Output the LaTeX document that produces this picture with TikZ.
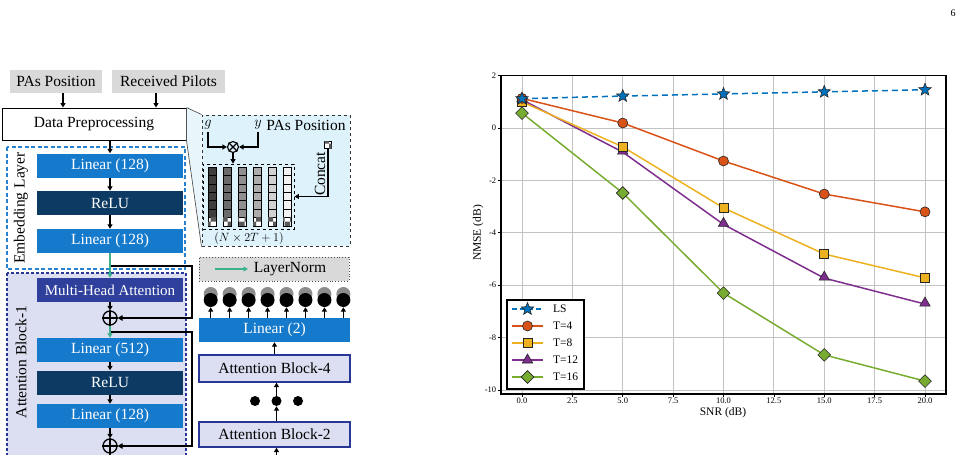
\documentclass[tikz,border=0pt]{standalone}
\usepackage{fontspec}
\setmainfont{Liberation Serif}
\usetikzlibrary{arrows.meta,shapes.geometric,patterns,calc}
\definecolor{linblue}{RGB}{22,122,204}
\definecolor{navy}{RGB}{12,58,98}
\definecolor{mhablue}{RGB}{46,64,156}
\definecolor{lav}{RGB}{220,223,242}
\definecolor{embblue}{RGB}{40,130,210}
\definecolor{attnav}{RGB}{40,55,150}
\definecolor{panelblue}{RGB}{222,242,251}
\definecolor{boxgray}{RGB}{217,217,217}
\definecolor{resgreen}{RGB}{60,175,140}
\definecolor{mblue}{RGB}{0,114,189}
\definecolor{morange}{RGB}{217,83,25}
\definecolor{myellow}{RGB}{237,177,32}
\definecolor{mpurple}{RGB}{126,47,142}
\definecolor{mgreen}{RGB}{119,172,48}
\definecolor{gridgray}{RGB}{195,195,195}
\newcommand{\dgfont}{\fontsize{15.5}{17}\selectfont}
\newcommand{\mhfont}{\fontsize{15}{17}\selectfont}
\newcommand{\tkfont}{\fontsize{8.5}{10}\selectfont}
\newcommand{\lgfont}{\fontsize{11.5}{13}\selectfont}
\tikzset{
  box/.style={minimum width=146pt, minimum height=24pt, inner sep=0pt, font=\dgfont, text=white},
  linbox/.style={box, fill=linblue},
  relubox/.style={box, fill=navy},
  mhabox/.style={box, fill=mhablue, font=\mhfont},
  graybox/.style={fill=boxgray, inner sep=0pt, minimum height=23pt, font=\dgfont},
  blockbox/.style={draw=attnav, line width=1.3pt, fill=lav, minimum width=151pt, inner sep=0pt, font=\dgfont},
  arr/.style={-{Triangle[length=4.5pt,width=5pt]}, line width=1.3pt},
  garr/.style={arr, color=resgreen},
  res/.style={line width=1.7pt, -{Triangle[length=5pt,width=5.5pt]}},
  opl/.style={circle, draw, line width=1.3pt, minimum size=14pt, inner sep=0pt},
  chk/.style={draw, line width=0.5pt, fill=white, postaction={pattern=checkerboard, pattern color=black!65}},
  dotn/.style={circle, fill=black, inner sep=0pt, minimum size=10pt},
  plotline/.style={line width=1.5pt},
  lsm/.style={star, star points=5, star point ratio=2.3, fill=mblue, draw=black!85, line width=0.6pt, minimum size=13pt, inner sep=0pt},
  t4m/.style={circle, fill=morange, draw=black!85, line width=0.6pt, minimum size=10pt, inner sep=0pt},
  t8m/.style={rectangle, fill=myellow, draw=black!85, line width=0.6pt, minimum size=9pt, inner sep=0pt},
  t12m/.style={regular polygon, regular polygon sides=3, fill=mpurple, draw=black!85, line width=0.6pt, minimum size=12pt, inner sep=0pt},
  t16m/.style={diamond, fill=mgreen, draw=black!85, line width=0.6pt, minimum size=13pt, inner sep=0pt},
}
\begin{document}
\begin{tikzpicture}[x=1pt,y=-1pt]
\useasboundingbox (0,0) rectangle (964,455);
% ---------------- inputs
\node[graybox, minimum width=92pt] (pas) at (56,81.5) {PAs Position};
\node[graybox, minimum width=113pt] (rp) at (168.5,81.5) {Received Pilots};
% zoom panel + funnel
\node[draw=black!80, dashed, line width=1pt, fill=panelblue, minimum width=148pt, minimum height=131pt, inner sep=0pt] (panel) at (276,180.5) {};
\node[draw, line width=1pt, fill=white, minimum width=184pt, minimum height=32pt, inner sep=0pt, font=\dgfont] (dp) at (94,124) {Data Preprocessing};
\fill[panelblue!70] (dp.north east) -- (panel.north west) -- (panel.south west) -- (dp.south east) -- cycle;
\draw[black!75, line width=0.6pt] (dp.north east) -- (panel.north west) (dp.south east) -- (panel.south west);
\coordinate (pasx) at (63,0);
\coordinate (rpx) at (156,0);
\draw[arr] (pas.south -| pasx) -- (dp.north -| pasx);
\draw[arr] (rp.south -| rpx) -- (dp.north -| rpx);
% ---------------- containers
\draw[embblue, line width=1.3pt, dash pattern=on 4pt off 2.5pt] (7,147) rectangle (185,269);
\draw[attnav, fill=lav, line width=1.1pt, dash pattern=on 3pt off 2pt] (7,273) rectangle (186,480);
\node[rotate=90, font=\dgfont, inner sep=0pt] (embt) at (21,208) {Embedding Layer};
\node[rotate=90, font=\dgfont, inner sep=0pt] (attt) at (21,362) {Attention Block-1};
% ---------------- left column
\node[linbox] (lin1) at (110,165.5) {Linear (128)};
\node[relubox] (relu1) at (110,203) {ReLU};
\node[linbox] (lin2) at (110,241) {Linear (128)};
\node[mhabox] (mha) at (110,290) {Multi-Head Attention};
\node[opl] (op1) at (110,318) {};
\node[linbox] (lin3) at (110,350) {Linear (512)};
\node[relubox] (relu2) at (110,382.5) {ReLU};
\node[linbox] (lin4) at (110,416) {Linear (128)};
\node[opl] (op2) at (110,446) {};
\draw[line width=1.3pt] (op1.north) -- (op1.south) (op1.west) -- (op1.east);
\draw[line width=1.3pt] (op2.north) -- (op2.south) (op2.west) -- (op2.east);
\draw[arr] (dp.south -| lin1) -- (lin1.north);
\draw[arr] (lin1.south) -- (relu1.north);
\draw[arr] (relu1.south) -- (lin2.north);
\coordinate (r1) at (110,266);
\coordinate (rx1) at (192,300);
\draw[res] (r1) -| (rx1) |- (op1.east);
\draw[garr] (lin2.south) -- (mha.north);
\draw[arr] (mha.south) -- (op1.north);
\coordinate (r2) at (110,332);
\coordinate (rx2) at (192,400);
\draw[res] (r2) -| (rx2) |- (op2.east);
\draw[garr] (op1.south) -- (lin3.north);
\draw[arr] (lin3.south) -- (relu2.north);
\draw[arr] (relu2.south) -- (lin4.north);
\draw[arr] (lin4.south) -- (op2.north);
\coordinate (opout) at (110,470);
\draw[line width=1.3pt] (op2.south) -- (opout);
% ---------------- panel content
\node[inner sep=0pt, font=\dgfont] (gv) at (208,125) {$g$};
\node[inner sep=0pt, font=\dgfont] (yv) at (258,125) {$y$};
\node[inner sep=0pt, font=\dgfont] (papt) at (306,125) {PAs Position};
\node[circle, draw, line width=1.1pt, minimum size=11pt, inner sep=0pt] (ot) at (233,147) {};
\draw[line width=1.1pt] (ot.north west) -- (ot.south east) (ot.north east) -- (ot.south west);
\draw[arr] (gv.south) ++(0,2) |- (ot.west);
\draw[arr] (yv.south) ++(0,2) |- (ot.east);
\node[draw, dashed, line width=0.8pt, minimum width=91pt, minimum height=65pt, inner sep=0pt] (mat) at (248.5,196.5) {};
\draw[arr] (ot.south) -- (mat.north -| ot);
\foreach \i/\w in {0/24,1/42,2/56,3/68,4/82,5/95}{
  \foreach \j in {0,...,5}{
    \draw[line width=0.5pt, fill=white!\w!black] ({208+15*\i},{167+8.4*\j}) rectangle ++(8,8.4);
  }
  \draw[chk] ({208+15*\i},{167+50.4}) rectangle ++(8,8.4);
}
\node[inner sep=0pt, font=\fontsize{12.5}{14}\selectfont] (dim) at (249,238) {$(N\times 2T+1)$};
\node[chk, minimum size=7pt, inner sep=0pt] (pap) at (328,145) {};
\draw[arr] (pap.south) |- (mat.east);
\node[rotate=90, inner sep=0pt, font=\dgfont] (cct) at (320,174) {Concat};
% ---------------- right column
\node[fill=boxgray, draw=black!70, dotted, line width=0.9pt, minimum width=150pt, minimum height=24pt, inner sep=0pt] (ln) at (274,269) {};
\coordinate (lnA) at (215,269);
\coordinate (lnB) at (248,269);
\draw[garr] (lnA) -- (lnB);
\node[inner sep=0pt, font=\dgfont] (lnt) at (290,269) {LayerNorm};
\node[linbox, minimum width=151pt] (lin5) at (274.5,330) {Linear (2)};
\foreach \k in {0,...,7}{
  \node[circle, fill=black!45, inner sep=0pt, minimum size=14pt] (gc\k) at ({210.7+18.95*\k},294) {};
}
\foreach \k in {0,...,7}{
  \node[circle, fill=black, inner sep=0pt, minimum size=14pt] (bc\k) at ({210.7+18.95*\k},300) {};
  \draw[arr, line width=1.1pt] (lin5.north -| bc\k) -- (bc\k.south);
}
\node[blockbox, minimum height=27pt] (ab4) at (274.5,368.5) {Attention Block-4};
\node[dotn] (d1) at (255,401) {};
\node[dotn] (d2) at (276.5,401) {};
\node[dotn] (d3) at (298,401) {};
\node[blockbox, minimum height=25pt] (ab2) at (274.5,434.5) {Attention Block-2};
\draw[arr] (ab4.north) -- (lin5.south);
\draw[arr] (d2.north) -- (ab4.south -| d2);
\draw[arr] (ab2.north -| d2) -- (d2.south);
\coordinate (abin) at (276.5,470);
\draw[arr] (abin) -- (ab2.south -| abin);
% ---------------- plot
\begin{scope}[shift={(522,128)}, x=20.15pt, y=26.2pt]
  \foreach \xv in {0,2.5,...,20} \draw[gridgray, line width=0.9pt] (\xv,-10.15) -- (\xv,2);
  \foreach \yv in {-10,-8,...,2} \draw[gridgray, line width=0.9pt] (-1.04,\yv) -- (21.04,\yv);
  \foreach \yv [count=\k] in {-10,-8,...,2}{
    \draw[line width=0.7pt] (-1.04,\yv) -- ++(-3.5pt,0);
    \node[anchor=east, font=\tkfont, inner sep=0pt] (yt\k) at (-1.27,\yv) {\yv};
  }
  \foreach \xv/\lab [count=\k] in {0/0.0,2.5/2.5,5/5.0,7.5/7.5,10/10.0,12.5/12.5,15/15.0,17.5/17.5,20/20.0}{
    \draw[line width=0.7pt] (\xv,-10.15) -- ++(0,-3pt);
    \node[font=\tkfont, inner sep=0pt] (xt\k) at (\xv,-10.4) {\lab};
  }
  \draw[line width=1.3pt] (-1.04,-10.15) rectangle (21.04,2);
  \draw[plotline, mgreen] plot coordinates {(0,0.57) (5,-2.48) (10,-6.3) (15,-8.66) (20,-9.66)};
  \draw[plotline, mpurple] plot coordinates {(0,1.08) (5,-0.92) (10,-3.68) (15,-5.73) (20,-6.72)};
  \draw[plotline, myellow] plot coordinates {(0,1.0) (5,-0.72) (10,-3.05) (15,-4.81) (20,-5.72)};
  \draw[plotline, morange] plot coordinates {(0,1.13) (5,0.19) (10,-1.26) (15,-2.52) (20,-3.2)};
  \draw[plotline, mblue, dash pattern=on 6pt off 4pt] plot coordinates {(0,1.12) (5,1.22) (10,1.30) (15,1.38) (20,1.46)};
  \foreach \xv/\yv [count=\k] in {0/0.57,5/-2.48,10/-6.3,15/-8.66,20/-9.66} \node[t16m] (pg\k) at (\xv,\yv) {};
  \foreach \xv/\yv [count=\k] in {0/1.08,5/-0.92,10/-3.68,15/-5.73,20/-6.72} \node[t12m, yshift=1pt] (pp\k) at (\xv,\yv) {};
  \foreach \xv/\yv [count=\k] in {0/1.0,5/-0.72,10/-3.05,15/-4.81,20/-5.72} \node[t8m] (py\k) at (\xv,\yv) {};
  \foreach \xv/\yv [count=\k] in {0/1.13,5/0.19,10/-1.26,15/-2.52,20/-3.2} \node[t4m] (po\k) at (\xv,\yv) {};
  \foreach \xv/\yv [count=\k] in {0/1.12,5/1.22,10/1.30,15/1.38,20/1.46} \node[lsm] (pl\k) at (\xv,\yv) {};
\end{scope}
\node[font=\lgfont, inner sep=0pt] (xlab) at (723,413) {SNR (dB)};
\node[rotate=90, font=\lgfont, inner sep=0pt] (ylab) at (478,233) {NMSE (dB)};
% legend
\node[draw, fill=white, line width=1.2pt, minimum width=77pt, minimum height=89pt, inner sep=0pt] (leg) at (545.5,344.5) {};
\foreach \y/\c/\m/\t [count=\k] in {309/mblue/lsm/LS,326/morange/t4m/T=4,343/myellow/t8m/T=8,360/mpurple/t12m/T=12,377/mgreen/t16m/T=16}{
  \coordinate (la\k) at (512,\y);
  \coordinate (lb\k) at (543,\y);
  \ifnum\k=1
    \draw[plotline, \c, dash pattern=on 5pt off 3pt] (la\k) -- (lb\k);
  \else
    \draw[plotline, \c] (la\k) -- (lb\k);
  \fi
  \node[\m] (lm\k) at (527.5,\y) {};
  \node[anchor=west, font=\lgfont, inner sep=0pt] (lt\k) at (553,\y) {\t};
}
\node[font=\fontsize{10}{12}\selectfont, inner sep=0pt] (pgno) at (953,13) {6};
\end{tikzpicture}
\end{document}
